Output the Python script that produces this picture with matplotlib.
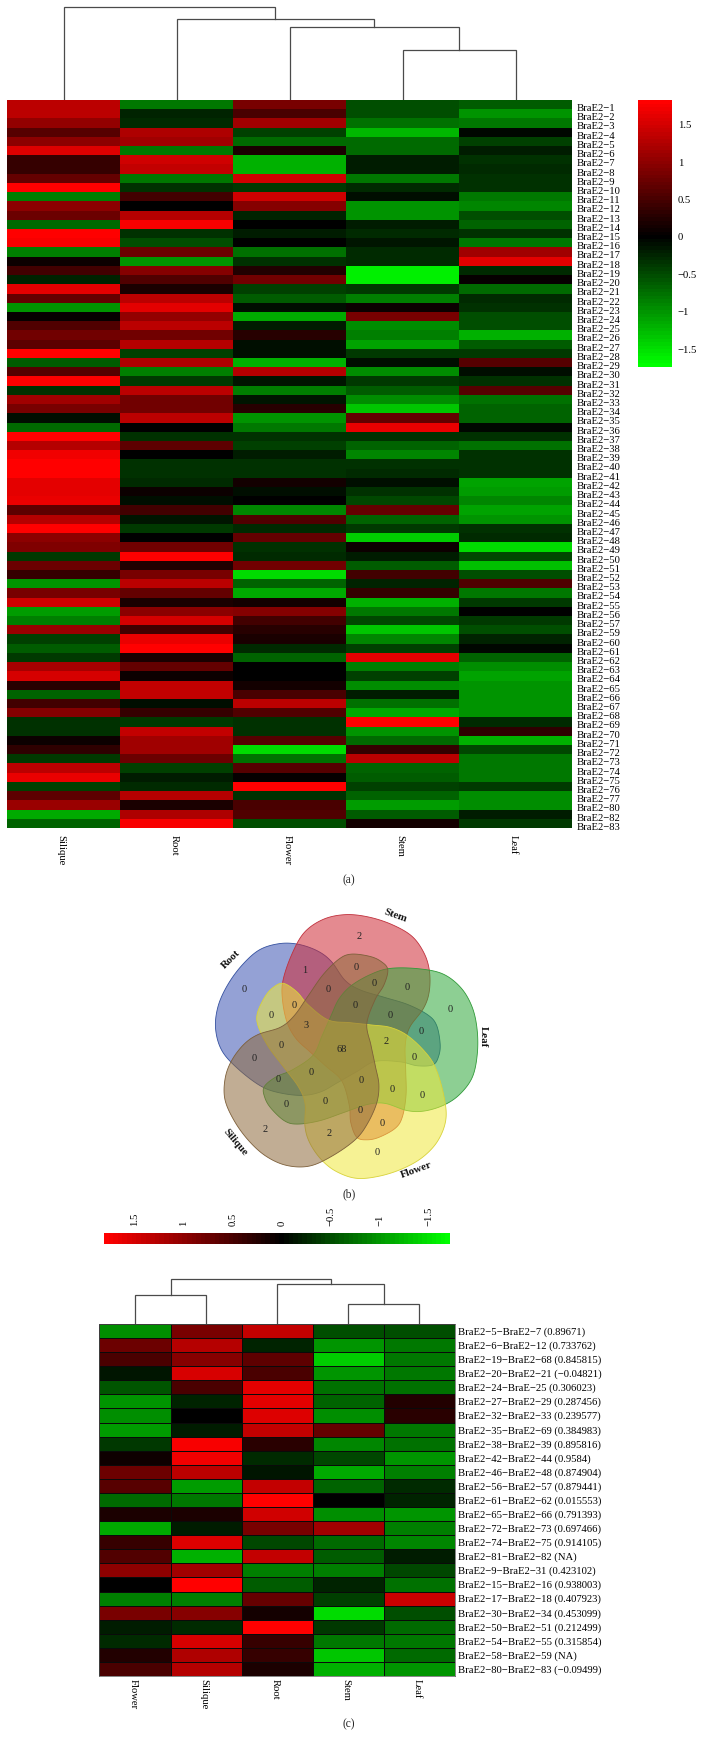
import numpy as np
import matplotlib
matplotlib.use("Agg")
import matplotlib.pyplot as plt
from matplotlib.colors import LinearSegmentedColormap, Normalize
from matplotlib.cm import ScalarMappable
from matplotlib.patches import Polygon

plt.rcParams['font.family'] = ['Liberation Serif', 'DejaVu Serif']
W, H = 701, 1746

# ---------- panel (a) ----------
a_cols = ['Silique', 'Root', 'Flower', 'Stem', 'Leaf']
a_ids = list(range(1, 58)) + list(range(59, 78)) + [80, 82, 83]
a_vals = [
[1.35,-0.8,0.85,-0.55,-0.6],[1.35,-0.25,0.5,-0.55,-1.0],[1.05,-0.3,1.15,-0.75,-0.8],[0.6,1.25,-0.45,-1.25,-0.05],
[1.0,1.15,-0.7,-0.7,-0.45],[1.55,-0.8,0.2,-0.7,-0.2],[0.4,1.45,-1.2,-0.2,-0.35],[0.4,1.4,-1.2,-0.2,-0.3],
[0.7,-0.8,1.45,-0.8,-0.35],[1.8,-0.35,-0.4,-0.3,-0.35],[-0.85,0.45,1.45,-0.1,-0.8],[1.0,0.02,0.95,-1.0,-0.9],
[0.75,1.3,-0.25,-1.0,-0.55],[-0.7,1.75,0.0,-0.2,-0.65],[1.8,-0.35,-0.2,-0.3,-0.35],[1.75,-0.55,0.02,-0.15,-0.8],
[-0.85,0.75,-0.75,-0.3,1.15],[0.1,-1.0,-0.35,-0.3,1.6],[0.45,0.95,0.25,-1.6,-0.3],[-0.25,0.55,0.8,-1.6,0.05],
[1.6,0.2,-0.45,-0.4,-0.7],[0.7,1.35,-0.6,-0.85,-0.3],[-1.0,1.6,-0.12,0.1,-0.35],[0.03,1.05,-1.15,0.85,-0.55],
[0.55,1.35,-0.2,-0.95,-0.55],[0.8,0.8,0.3,-0.85,-1.2],[0.65,1.3,-0.1,-1.1,-0.6],[1.8,-0.45,-0.08,-0.4,-0.4],
[-0.6,1.25,-1.2,-0.1,0.6],[0.6,-0.85,1.3,-0.95,-0.1],[1.8,-0.4,-0.15,-0.4,-0.35],[-0.35,1.35,-0.85,-0.6,0.6],
[1.15,0.8,-0.15,-0.95,-0.75],[0.85,0.8,0.3,-1.35,-0.65],[-0.12,1.35,-1.0,0.7,-0.65],[-0.7,0.02,-0.8,1.65,-0.05],
[1.8,-0.35,-0.35,-0.35,-0.35],[1.3,0.65,-0.45,-0.65,-0.75],[1.7,0.02,-0.2,-0.9,-0.35],[1.8,-0.35,-0.35,-0.35,-0.35],
[1.8,-0.35,-0.35,-0.3,-0.35],[1.6,-0.3,0.15,-0.12,-1.1],[1.6,0.1,-0.12,-0.35,-1.05],[1.65,-0.12,0.02,-0.5,-0.9],
[0.65,0.45,-0.9,0.7,-1.1],[1.3,-0.15,0.55,-0.65,-1.0],[1.8,-0.4,-0.3,-0.4,-0.35],[1.0,0.01,0.7,-1.4,-0.3],
[0.9,0.8,-0.35,0.1,-1.5],[-0.4,1.8,-0.3,-0.2,-0.5],[0.75,0.25,0.8,-0.6,-1.3],[0.4,0.85,-1.5,0.45,-0.55],
[-1.0,1.35,-0.65,-0.25,0.55],[0.85,0.7,-1.15,0.4,-0.8],[1.45,0.2,0.12,-1.2,-0.4],[-1.05,1.0,0.95,-0.8,0.02],
[-0.85,1.5,0.45,-0.5,-0.4],[1.1,0.45,0.3,-1.35,-0.55],[-0.45,1.65,0.2,-0.9,-0.25],[-0.6,1.8,-0.3,-0.45,-0.05],
[-0.4,0.2,-0.65,1.6,-0.65],[1.2,0.7,0.0,-0.85,-0.95],[1.5,0.08,0.0,-0.45,-1.1],[0.3,1.4,0.15,-0.95,-1.0],
[-0.65,1.4,0.5,-0.2,-1.0],[0.45,-0.1,1.35,-0.75,-0.98],[0.95,0.4,0.55,-1.15,-0.98],[-0.35,-0.4,-0.35,1.8,-0.3],
[-0.35,1.4,-0.35,-1.0,0.35],[0.1,1.15,0.6,-0.7,-1.2],[0.35,1.15,-1.5,0.4,-0.5],[-0.4,0.75,-0.75,1.35,-0.8],
[1.35,-0.45,0.6,-0.65,-0.8],[1.65,-0.2,0.05,-0.6,-0.8],[-0.45,-0.3,1.8,-0.45,-0.4],[0.65,1.3,-0.35,-0.65,-0.95],
[1.1,0.2,0.5,-1.05,-0.95],[-1.15,1.25,0.55,-0.6,-0.2],[-0.65,1.75,-0.55,0.15,-0.4],
]
a_link_heights = [50, 73, 81, 93]
a_cb_ticks = [1.5, 1, 0.5, 0, -0.5, -1, -1.5]
a_cb_labels = ['1.5', '1', '0.5', '0', '−0.5', '−1', '−1.5']

# ---------- panel (b) ----------
venn_sets = ['Flower', 'Silique', 'Root', 'Stem', 'Leaf']
venn_counts = ['2','1','0','0','0','0','0','0','0','0','0','0','3','0','2','68','0','0','0','0','0','0','0','0','0','0','0','0','2','2','0']

# ---------- panel (c) ----------
c_cols = ['Flower', 'Silique', 'Root', 'Stem', 'Leaf']
c_rows = ['BraE2−5−BraE2−7 (0.89671)','BraE2−6−BraE2−12 (0.733762)','BraE2−19−BraE2−68 (0.845815)',
 'BraE2−20−BraE2−21 (−0.04821)','BraE2−24−BraE−25 (0.306023)','BraE2−27−BraE2−29 (0.287456)',
 'BraE2−32−BraE2−33 (0.239577)','BraE2−35−BraE2−69 (0.384983)','BraE2−38−BraE2−39 (0.895816)',
 'BraE2−42−BraE2−44 (0.9584)','BraE2−46−BraE2−48 (0.874904)','BraE2−56−BraE2−57 (0.879441)',
 'BraE2−61−BraE2−62 (0.015553)','BraE2−65−BraE2−66 (0.791393)','BraE2−72−BraE2−73 (0.697466)',
 'BraE2−74−BraE2−75 (0.914105)','BraE2−81−BraE2−82 (NA)','BraE2−9−BraE2−31 (0.423102)',
 'BraE2−15−BraE2−16 (0.938003)','BraE2−17−BraE2−18 (0.407923)','BraE2−30−BraE2−34 (0.453099)',
 'BraE2−50−BraE2−51 (0.212499)','BraE2−54−BraE2−55 (0.315854)','BraE2−58−BraE2−59 (NA)',
 'BraE2−80−BraE2−83 (−0.09499)']
c_vals = [
[-0.95,0.85,1.35,-0.5,-0.5],[0.75,1.25,-0.25,-1.0,-0.8],[0.5,0.95,0.65,-1.35,-0.8],[-0.15,1.5,0.5,-1.0,-0.8],
[-0.55,0.5,1.6,-0.75,-0.75],[-1.0,-0.25,1.6,-0.65,0.25],[-0.95,0.02,1.55,-0.95,0.3],[-1.05,-0.2,1.35,0.7,-0.8],
[-0.35,1.75,0.3,-0.9,-0.75],[0.1,1.7,-0.3,-0.45,-1.0],[0.75,1.3,-0.15,-1.1,-0.85],[0.6,-1.05,1.35,-0.65,-0.3],
[-0.7,-0.8,1.8,0.0,-0.25],[0.2,0.2,1.45,-0.95,-1.0],[-1.1,-0.2,0.85,1.15,-0.85],[0.4,1.55,-0.45,-0.7,-0.9],
[0.55,-1.15,1.35,-0.6,-0.2],[1.0,1.15,-0.85,-0.85,-0.45],[0.02,1.8,-0.6,-0.25,-0.75],[-0.85,-0.85,0.7,-0.4,1.4],
[0.85,0.95,0.15,-1.45,-0.5],[-0.2,-0.3,1.8,-0.35,-0.7],[-0.3,1.5,0.4,-0.8,-0.8],[0.25,1.2,0.4,-1.3,-0.7],
[0.5,1.25,0.2,-1.15,-1.0],
]
c_link_heights = [20, 40, 29, 45]


def axes_px(x0, y0, x1, y1, **kw):
    return fig.add_axes([x0 / W, 1 - y1 / H, (x1 - x0) / W, (y1 - y0) / H], **kw)


def rg_cmap(vmin, vmax, n=75):
    p = -vmin / (vmax - vmin)
    return LinearSegmentedColormap.from_list('gbr', [(0, '#00ff00'), (p, '#000000'), (1, '#ff0000')], N=n)


def draw_link(ax, x1, h1, x2, h2, h):
    ax.plot([x1, x1, x2, x2], [h1, h, h, h2], color='#4a4a4a', lw=0.9, solid_joinstyle='miter')


fig = plt.figure(figsize=(W / 100, H / 100), dpi=100, facecolor='white')
FS = 7.7

# ---- (a) heatmap ----
na, nb = -1.74, 1.83
ax = axes_px(7, 100, 572, 828)
arr = np.array(a_vals)
ax.imshow(arr, cmap=rg_cmap(na, nb), norm=Normalize(na, nb), aspect='auto', interpolation='nearest')
ax.set_yticks(np.arange(len(a_ids)) + 0.32)
ax.set_yticklabels([f'BraE2−{i}' for i in a_ids], fontsize=FS)
ax.yaxis.tick_right()
ax.set_xticks(np.arange(5) - 0.02)
ax.set_xticklabels(a_cols, rotation=270, fontsize=FS, va='top', ha='center')
ax.tick_params(length=0, pad=3.5)
ax.tick_params(axis='x', pad=5)
for s in ax.spines.values():
    s.set_visible(False)

# ---- (a) dendrogram ----
d = axes_px(7, 0, 572, 100)
d.set_xlim(-0.5, 4.5); d.set_ylim(0, 100); d.axis('off')
h = a_link_heights
draw_link(d, 3, 0, 4, 0, h[0])
draw_link(d, 2, 0, 3.5, h[0], h[1])
draw_link(d, 1, 0, 2.75, h[1], h[2])
draw_link(d, 0, 0, 1.875, h[2], h[3])

# ---- (a) colour bar ----
cax = axes_px(638, 100, 672, 367)
cb = fig.colorbar(ScalarMappable(Normalize(na, nb), rg_cmap(na, nb)), cax=cax, ticks=a_cb_ticks)
cb.ax.set_yticklabels(a_cb_labels, fontsize=FS)
cb.ax.tick_params(length=0, pad=4)
cb.outline.set_visible(False)

# ---- overlay in pixel coordinates ----
ov = axes_px(0, 0, W, H)
ov.set_xlim(0, W); ov.set_ylim(H, 0); ov.axis('off'); ov.patch.set_alpha(0)

# ---- (b) venn, one outline rotated in 72 degree steps ----
outline = np.array([(280,340),(320,365),(355,405),(415,450),(480,458),(545,465),(600,472),(650,495),(700,540),
    (735,590),(760,670),(768,745),(745,810),(700,860),(640,895),(570,918),(500,925),(440,905),(395,870),(360,820),
    (345,770),(345,700),(325,650),(280,590),(235,530),(205,470),(202,430),(225,380),(250,352)], float)
centre = np.array([465.0, 535.0])


def smooth(pts, n=12):
    out = []
    N = len(pts)
    for i in range(N):
        p0, p1, p2, p3 = pts[i - 1], pts[i], pts[(i + 1) % N], pts[(i + 2) % N]
        for t in np.linspace(0, 1, n, endpoint=False):
            out.append(0.5 * (2 * p1 + (p2 - p0) * t + (2 * p0 - 5 * p1 + 4 * p2 - p3) * t ** 2
                              + (3 * p1 - p0 - 3 * p2 + p3) * t ** 3))
    return np.array(out)


def to_px(p):
    p = np.asarray(p, float)
    return p / 3 + np.array([190, 870])


venn_fill = {'Flower': '#efe93c', 'Silique': '#8e6a3c', 'Root': '#3c55b4', 'Stem': '#cf2a35', 'Leaf': '#2fa83a'}
venn_edge = {'Flower': '#d8d23a', 'Silique': '#7d5f3a', 'Root': '#34509f', 'Stem': '#c0303c', 'Leaf': '#2f9a38'}
venn_steps = {'Flower': 0, 'Silique': 1, 'Root': 2, 'Stem': 3, 'Leaf': 4}
base = smooth(outline) - centre
for name in ['Root', 'Stem', 'Leaf', 'Flower', 'Silique']:
    ang = np.deg2rad(72 * venn_steps[name])
    R = np.array([[np.cos(ang), -np.sin(ang)], [np.sin(ang), np.cos(ang)]])
    pts = to_px(base @ R.T + centre)
    ov.add_patch(Polygon(pts, closed=True, facecolor=venn_fill[name], alpha=0.55, edgecolor='none'))
    ov.add_patch(Polygon(pts, closed=True, facecolor='none', edgecolor=venn_edge[name], lw=0.6))

count_pos = [(508,200),(343,302),(500,291),(552,340),(652,352),(414,360),(163,359),(497,408),(313,405),(244,437),
    (602,438),(781,420),(349,467),(695,486),(588,513),(456,538),(274,526),(673,561),(193,566),(363,607),(265,629),
    (514,632),(606,660),(697,678),(288,703),(406,696),(511,721),(576,759),(226,779),(416,790),(562,847)]
for txt, p in zip(venn_counts, count_pos):
    x, y = to_px(p)
    ov.text(x, y, txt, fontsize=7.5, ha='center', va='center', color='#222222')
label_pos = {'Stem': ((615,137), -20), 'Root': ((123,267), 45), 'Leaf': ((880,500), -90),
             'Flower': ((680,900), 20), 'Silique': ((135,818), -50)}
for name, (p, rot) in label_pos.items():
    x, y = to_px(p)
    ov.text(x, y, name, fontsize=7.8, fontweight='bold', rotation=rot, ha='center', va='center', color='#111111')

for t, (x, y) in zip(['(a)', '(b)', '(c)'], [(349, 880), (349, 1194), (349, 1724)]):
    ov.text(x, y, t, fontsize=8.3, ha='center', va='center', color='#222222')

# ---- (c) colour bar ----
ca, cbb = -1.71, 1.81
hax = axes_px(104, 1233, 450, 1244)
hb = fig.colorbar(ScalarMappable(Normalize(ca, cbb), rg_cmap(ca, cbb)), cax=hax, orientation='horizontal', ticks=a_cb_ticks)
hax.invert_xaxis()
hax.xaxis.set_ticks_position('top')
hax.set_xticklabels(a_cb_labels, rotation=90, fontsize=FS, va='bottom', ha='center')
hax.tick_params(length=0, pad=5)
hb.outline.set_visible(False)

# ---- (c) heatmap ----
axc = axes_px(99.4, 1324, 455, 1676)
Mc = np.array(c_vals)
axc.pcolormesh(np.arange(6), np.arange(26), Mc, cmap=rg_cmap(ca, cbb), norm=Normalize(ca, cbb),
               edgecolors='#0a0a0a', linewidth=0.5)
axc.set_ylim(25, 0)
axc.set_yticks(np.arange(25) + 0.5)
axc.set_yticklabels(c_rows, fontsize=FS)
axc.yaxis.tick_right()
axc.set_xticks(np.arange(5) + 0.47)
axc.set_xticklabels(c_cols, rotation=270, fontsize=FS, va='top', ha='center')
axc.tick_params(length=0, pad=2.5)
for s in axc.spines.values():
    s.set_color('#555555'); s.set_linewidth(0.5)

# ---- (c) dendrogram ----
dc = axes_px(99.4, 1274, 455, 1324)
dc.set_xlim(-0.5, 4.5); dc.set_ylim(0, 50); dc.axis('off')
g = c_link_heights
draw_link(dc, 3, 0, 4, 0, g[0])
draw_link(dc, 2, 0, 3.5, g[0], g[1])
draw_link(dc, 0, 0, 1, 0, g[2])
draw_link(dc, 0.5, g[2], 2.75, g[1], g[3])

fig.savefig('out.png', dpi=100)
